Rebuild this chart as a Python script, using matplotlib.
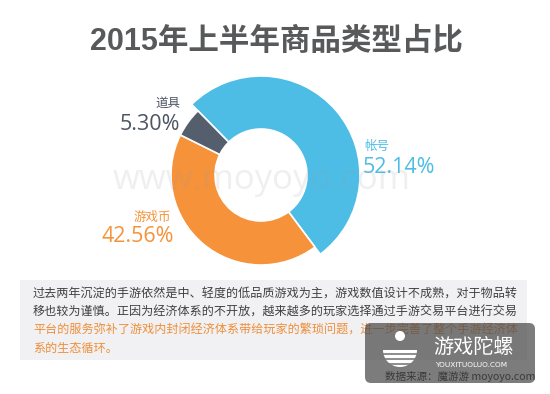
import matplotlib.pyplot as plt
from matplotlib.patches import Rectangle, FancyBboxPatch, Wedge, Circle

# data
categories = ['帐号', '游戏币', '道具']
shares = [52.14, 42.56, 5.30]
colors = ['#4dbde6', '#f6923a', '#555e6d']
title = '2015年上半年商品类型占比'
note_lines = [
    '过去两年沉淀的手游依然是中、轻度的低品质游戏为主，游戏数值设计不成熟，对于物品转',
    '移也较为谨慎。正因为经济体系的不开放，越来越多的玩家选择通过手游交易平台进行交易',
    '平台的服务弥补了游戏内封闭经济体系带给玩家的繁琐问题，进一步完善了整个手游经济体',
    '系的生态循环。',
]
note_colors = ['#404040', '#404040', '#ee8f3a', '#ee8f3a']

W, H = 550, 394
CJK = ['Noto Sans CJK SC', 'DejaVu Sans']
NUM = ['Open Sans', 'Noto Sans CJK SC', 'DejaVu Sans']


def py(y):
    # pixel row (from top) -> data y
    return H - y


fig = plt.figure(figsize=(W / 100, H / 100), dpi=100)
ax = fig.add_axes([0, 0, 1, 1])

cx, cy = 261, py(175)
wedges, _ = ax.pie(shares, colors=colors, startangle=134.5, counterclock=False,
                   radius=90, center=(cx, cy),
                   wedgeprops=dict(width=44, edgecolor='white', linewidth=1.2))
# the largest slice sticks out further than the others
wedges[0].set_radius(99)
wedges[0].set_width(53)

ax.set_xlim(0, W)
ax.set_ylim(0, H)
ax.set_aspect('auto')
ax.axis('off')

ax.text(276, py(42), title, ha='center', va='center', fontsize=22, fontweight='bold',
        color='#58595b', family=['Liberation Sans', 'Noto Sans CJK SC'])

# slice labels
ax.text(180, py(103), categories[2], ha='right', va='center', fontsize=9,
        color='#4d5563', family=CJK)
ax.text(180, py(124), f'{shares[2]:.2f}%', ha='right', va='center', fontsize=15.5,
        color='#4d5563', family=NUM)
ax.text(364, py(146), categories[0], ha='left', va='center', fontsize=9,
        color=colors[0], family=CJK)
ax.text(363, py(167.5), f'{shares[0]:.2f}%', ha='left', va='center', fontsize=15.5,
        color=colors[0], family=NUM)
ax.text(171, py(217), categories[1], ha='right', va='center', fontsize=9,
        color=colors[1], family=CJK)
ax.text(174, py(236), f'{shares[1]:.2f}%', ha='right', va='center', fontsize=15.5,
        color=colors[1], family=NUM)

# faint site watermark across the donut
ax.text(262, py(180), 'www.moyoyo.com', ha='center', va='center', fontsize=25,
        color='#9a9a9a', alpha=0.15, family=NUM, zorder=5)

# note box
ax.add_patch(Rectangle((20, py(360)), 507, 80, facecolor='#f1f1f3', edgecolor='none', zorder=1))
for i, (line, c) in enumerate(zip(note_lines, note_colors)):
    ax.text(33, py(294 + i * 18), line, ha='left', va='center', fontsize=8.7,
            color=c, family=CJK, zorder=2)

# source badge bottom right
ax.add_patch(FancyBboxPatch((365, py(383)), 170, 60, boxstyle='round,pad=0,rounding_size=6',
                            facecolor='#4a4a4a', edgecolor='none', alpha=0.72, zorder=6))
ax.add_patch(Wedge((400, py(350)), 17, 180, 360, facecolor='white', edgecolor='none', zorder=7))
for k in range(3):
    ax.plot([383 + k * 2.5, 417 - k * 2.5], [py(354 + k * 5), py(354 + k * 5)],
            color='#7a7a7a', lw=1.2, zorder=8)
ax.add_patch(Circle((400, py(336)), 5, facecolor='white', edgecolor='none', zorder=7))
ax.text(433, py(347), '游戏陀螺', ha='left', va='center', fontsize=14.5, color='white',
        family=CJK, zorder=9)
ax.text(435, py(365), 'YOUXITUOLUO.COM', ha='left', va='center', fontsize=5.3, color='white',
        family=['Liberation Sans Narrow', 'DejaVu Sans'], zorder=9)
ax.text(385, py(377), '数据来源：魔游游 moyoyo.com', ha='left', va='center', fontsize=7.6,
        color='#3a3a3a', family=CJK, zorder=9)

fig.savefig('out.png', dpi=100, facecolor='white')
